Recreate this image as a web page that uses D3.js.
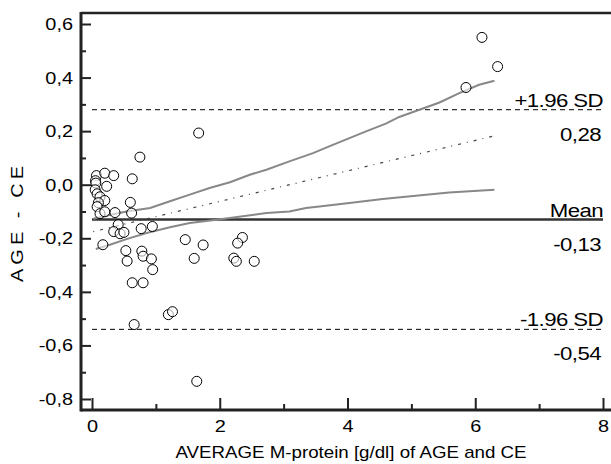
<!DOCTYPE html>
<html>
<head>
<meta charset="utf-8">
<script src="https://cdn.jsdelivr.net/npm/d3@7"></script>
<style>
    body { margin: 0; background: #fff; }
    text { font-family: "Liberation Sans", Arial, sans-serif; fill: #000; }
</style>
</head>
<body>
<svg id="chart" width="611" height="464"></svg>
<script>
// average (g/dl) vs difference AGE - CE
const diffPoints = [
    [0.07, 0.034], [0.20, 0.043], [0.34, 0.034], [0.63, 0.022], [0.055, 0.015],
    [0.06, 0.006], [0.23, -0.006], [0.05, -0.019], [0.08, -0.034], [0.125, -0.045],
    [0.20, -0.059], [0.10, -0.067], [0.60, -0.066], [0.08, -0.082], [0.125, -0.108],
    [0.20, -0.101], [0.36, -0.104], [0.62, -0.106], [0.41, -0.149], [0.34, -0.175],
    [0.44, -0.183], [0.50, -0.178], [0.77, -0.164], [0.945, -0.156], [0.17, -0.224],
    [0.53, -0.246], [0.55, -0.285], [0.78, -0.248], [0.80, -0.267], [0.93, -0.277],
    [0.95, -0.317], [0.63, -0.366], [0.80, -0.366], [1.195, -0.485], [1.26, -0.474],
    [0.66, -0.522], [1.64, -0.734], [0.75, 0.103], [1.67, 0.193], [1.46, -0.205],
    [1.74, -0.225], [1.60, -0.275], [2.355, -0.197], [2.28, -0.218], [2.22, -0.274],
    [2.26, -0.286], [2.54, -0.286], [5.855, 0.363], [6.105, 0.55], [6.35, 0.441]
];

const upperCI = [
    [0.02, -0.127], [0.18, -0.118], [0.54, -0.10], [0.91, -0.087], [1.22, -0.062],
    [1.53, -0.037], [1.84, -0.012], [2.16, 0.009], [2.47, 0.037], [2.73, 0.056],
    [3.09, 0.087], [3.46, 0.118], [3.77, 0.149], [4.29, 0.199], [4.60, 0.228],
    [4.81, 0.253], [5.125, 0.28], [5.44, 0.307], [5.75, 0.342], [6.06, 0.373], [6.30, 0.388]
];

const lowerCI = [
    [0.06, -0.24], [0.28, -0.224], [0.54, -0.203], [0.855, -0.18], [1.22, -0.159],
    [1.53, -0.143], [1.95, -0.131], [2.36, -0.118], [2.73, -0.106], [3.09, -0.10],
    [3.35, -0.087], [3.56, -0.081], [4.03, -0.068], [4.55, -0.053], [5.07, -0.041],
    [5.59, -0.029], [6.30, -0.019]
];

const regression = [[0.02, -0.175], [6.31, 0.183]];

const limitValues = [0.28, -0.13, -0.54];
const limitNames = ["+1.96 SD", "Mean", "-1.96 SD"];
const limitLabels = ["0,28", "-0,13", "-0,54"];

const xMajor = [0, 2, 4, 6, 8];
const xMinor = [1, 3, 5, 7];
const yMajor = [0.6, 0.4, 0.2, 0, -0.2, -0.4, -0.6, -0.8];
const yMinor = [0.5, 0.3, 0.1, -0.1, -0.3, -0.5, -0.7];

const svg = d3.select("#chart");

const x = d3.scaleLinear().domain([0, 8]).range([92, 603]);
const y = d3.scaleLinear().domain([-0.8, 0.6]).range([399, 24]);

const loc = d3.formatLocale({ decimal: ",", thousands: ".", grouping: [3], currency: ["", ""], minus: "-" });
const fmt = loc.format(".1f");

// the original font is a wide arial, stretch glyphs horizontally
const WIDE = 1.17;
function widen(sel) {
    sel.each(function() {
        let t = d3.select(this);
        let tx = +t.attr("x") || 0;
        t.attr("x", tx / WIDE).attr("transform", `scale(${WIDE},1)`);
    });
}

// frame
const frame = { left: 81, top: 13, right: 611, bottom: 410 };
svg.append("line")
    .attr("x1", frame.left).attr("x2", frame.right)
    .attr("y1", frame.top).attr("y2", frame.top)
    .attr("stroke", "#222").attr("stroke-width", 2.5);

// y axis
let yAxis = svg.append("g")
    .attr("transform", `translate(${frame.left},0)`)
    .call(d3.axisLeft(y).tickValues(yMajor).tickSize(-10).tickPadding(8).tickFormat(fmt));
yAxis.select(".domain").remove();
yAxis.selectAll("line").attr("stroke", "#222").attr("stroke-width", 2);
yAxis.selectAll("text").attr("font-size", 17).attr("fill", "#000").call(widen);

let yAxisMinor = svg.append("g")
    .attr("transform", `translate(${frame.left},0)`)
    .call(d3.axisLeft(y).tickValues(yMinor).tickSize(-5).tickFormat(""));
yAxisMinor.select(".domain").remove();
yAxisMinor.selectAll("line").attr("stroke", "#222").attr("stroke-width", 2);

// x axis
let xAxis = svg.append("g")
    .attr("transform", `translate(0,${frame.bottom})`)
    .call(d3.axisBottom(x).tickValues(xMajor).tickSize(-12).tickPadding(10).tickFormat(d3.format("d")));
xAxis.select(".domain").remove();
xAxis.selectAll("line").attr("stroke", "#222").attr("stroke-width", 2);
xAxis.selectAll("text").attr("font-size", 17).attr("fill", "#000").call(widen);

let xAxisMinor = svg.append("g")
    .attr("transform", `translate(0,${frame.bottom})`)
    .call(d3.axisBottom(x).tickValues(xMinor).tickSize(-6).tickFormat(""));
xAxisMinor.select(".domain").remove();
xAxisMinor.selectAll("line").attr("stroke", "#222").attr("stroke-width", 2);

svg.append("line")
    .attr("x1", frame.left).attr("x2", frame.left)
    .attr("y1", frame.top - 1).attr("y2", frame.bottom + 1.5)
    .attr("stroke", "#222").attr("stroke-width", 3);
svg.append("line")
    .attr("x1", frame.left).attr("x2", frame.right)
    .attr("y1", frame.bottom).attr("y2", frame.bottom)
    .attr("stroke", "#222").attr("stroke-width", 3);

// limits of agreement + mean
limitValues.forEach((v, i) => {
    let isMean = limitNames[i] === "Mean";
    svg.append("line")
        .attr("x1", x(0)).attr("x2", x(8))
        .attr("y1", y(v)).attr("y2", y(v))
        .attr("stroke", isMean ? "#333" : "#000")
        .attr("stroke-width", isMean ? 2.5 : 1)
        .attr("stroke-dasharray", isMean ? null : "5,4");
    svg.append("text")
        .attr("x", x(8)).attr("y", y(v) - 3)
        .attr("text-anchor", "end")
        .attr("font-size", 19)
        .attr("letter-spacing", -0.5)
        .text(limitNames[i])
        .call(widen);
    svg.append("text")
        .attr("x", x(8) - 2).attr("y", y(v) + 31)
        .attr("text-anchor", "end")
        .attr("font-size", 19)
        .attr("letter-spacing", -0.5)
        .text(limitLabels[i])
        .call(widen);
});

// regression + confidence band
const line = d3.line().x(d => x(d[0])).y(d => y(d[1]));

svg.append("path").datum(upperCI)
    .attr("d", line).attr("fill", "none")
    .attr("stroke", "#888").attr("stroke-width", 2);
svg.append("path").datum(lowerCI)
    .attr("d", line).attr("fill", "none")
    .attr("stroke", "#888").attr("stroke-width", 2);
svg.append("path").datum(regression)
    .attr("d", line).attr("fill", "none")
    .attr("stroke", "#444").attr("stroke-width", 1.2)
    .attr("stroke-dasharray", "1,6,3,6");

// data points
svg.append("g").selectAll("circle")
    .data(diffPoints)
    .join("circle")
    .attr("cx", d => x(d[0]))
    .attr("cy", d => y(d[1]))
    .attr("r", 5)
    .attr("fill", "#fff")
    .attr("fill-opacity", 0.6)
    .attr("stroke", "#000")
    .attr("stroke-width", 1);

// axis titles
svg.append("text")
    .attr("x", 351).attr("y", 458)
    .attr("text-anchor", "middle")
    .attr("font-size", 16)
    .text("AVERAGE M-protein [g/dl] of AGE and CE")
    .call(widen);

svg.append("text")
    .attr("transform", `translate(23,222) rotate(-90) scale(${WIDE},1)`)
    .attr("text-anchor", "middle")
    .attr("font-size", 17)
    .attr("letter-spacing", 3.5)
    .text("AGE - CE");
</script>
</body>
</html>
